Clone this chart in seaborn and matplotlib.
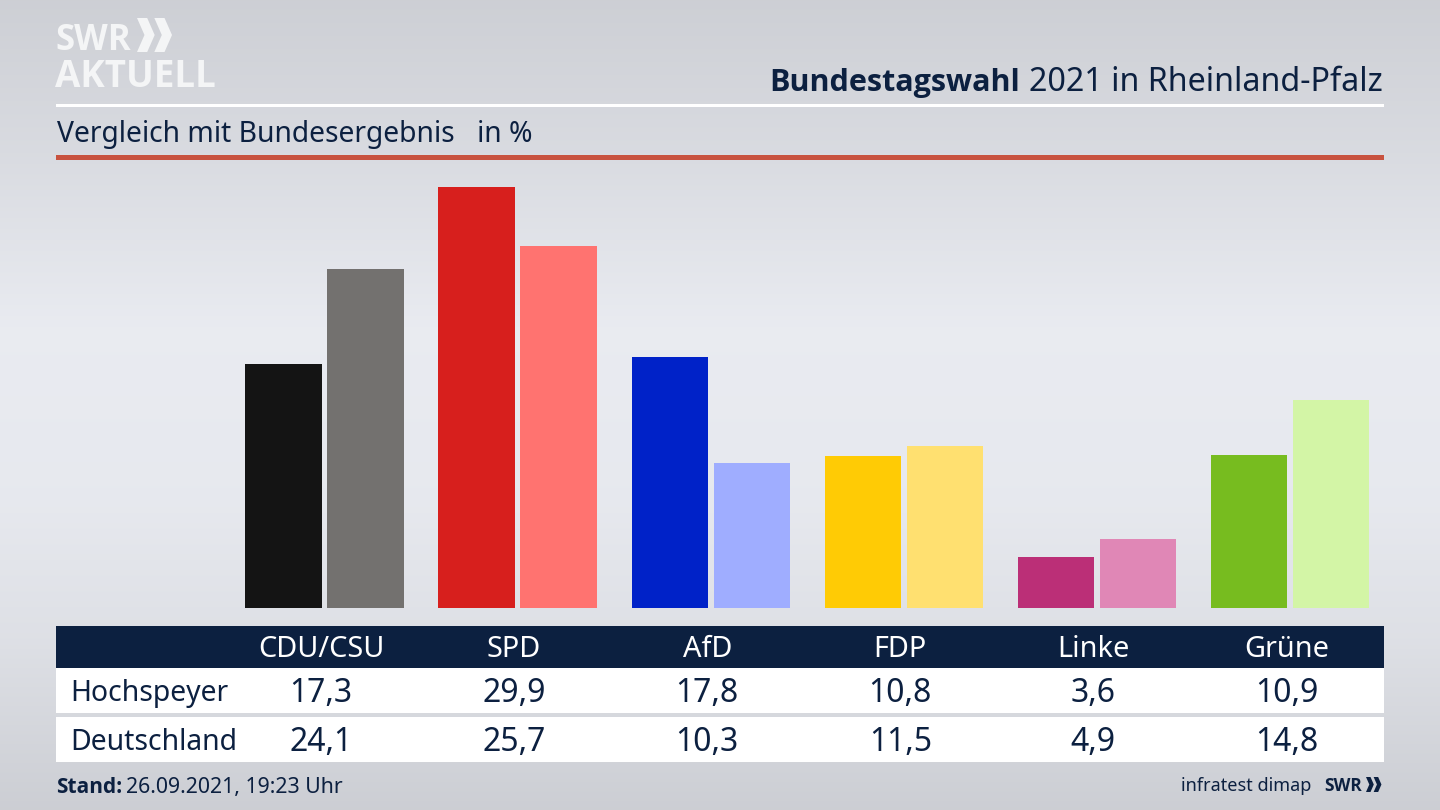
import matplotlib
matplotlib.use("Agg")
import matplotlib.pyplot as plt
import numpy as np
import pandas as pd
import seaborn as sns
from matplotlib.patches import Polygon, Rectangle

parties = ["CDU/CSU", "SPD", "AfD", "FDP", "Linke", "Grüne"]
hochspeyer = [17.3, 29.9, 17.8, 10.8, 3.6, 10.9]
deutschland = [24.1, 25.7, 10.3, 11.5, 4.9, 14.8]
colors_local = ["#141414", "#d71f1d", "#0022c8", "#ffcb05", "#bb2f77", "#77bc1f"]
colors_federal = ["#73716f", "#ff7370", "#9fadff", "#ffe070", "#e087b6", "#d3f5a6"]

NAVY = "#0c2040"
W, H = 1440, 810

sns.set_theme(style="white")
plt.rcParams["font.family"] = ["Noto Sans", "DejaVu Sans"]

fig = plt.figure(figsize=(14.4, 8.1), dpi=100)

# background gradient
bg = fig.add_axes([0, 0, 1, 1], zorder=0)
stops_y = [0, 150, 330, 500, 640, 810]
stops_v = [0.805, 0.85, 0.915, 0.905, 0.87, 0.80]
grad = np.interp(np.arange(H), stops_y, stops_v)[:, None]
rgb = np.dstack([grad, grad + 0.008, grad + 0.03]).clip(0, 1)
bg.imshow(rgb, extent=(0, W, H, 0), aspect="auto")
bg.axis("off")

# bars
top, base = 170, 608
px_per_unit = 421 / 29.9
ax = fig.add_axes([56 / W, 1 - base / H, (1384 - 56) / W, (base - top) / H], zorder=1)
df = pd.DataFrame({"partei": parties, "Hochspeyer": hochspeyer, "Deutschland": deutschland})
long = df.melt(id_vars="partei", var_name="gebiet", value_name="prozent")
sns.barplot(data=long, x="partei", y="prozent", hue="gebiet", ax=ax, width=0.85, gap=0.07,
            saturation=1, legend=False, errorbar=None)
for patch, col in zip(ax.patches, colors_local + colors_federal):
    patch.set_facecolor(col)
    patch.set_edgecolor("none")
step = 193.1
ax.set_xlim((56 - 324.5) / step, (1384 - 324.5) / step)
ax.set_ylim(0, (base - top) / px_per_unit)
ax.axis("off")

# overlay in pixel coordinates
ov = fig.add_axes([0, 0, 1, 1], zorder=2)
ov.set_xlim(0, W)
ov.set_ylim(H, 0)
ov.axis("off")
ov.patch.set_alpha(0)


def box(x0, y0, x1, y1, color):
    ov.add_patch(Rectangle((x0, y0), x1 - x0, y1 - y0, facecolor=color, edgecolor="none"))


def chevrons(x, y, h, color):
    # two arrow heads of the SWR logo
    w = h * 0.52
    t = h * 0.30
    for dx in (0, w * 0.98):
        pts = [(x + dx, y), (x + dx + t, y), (x + dx + w, y + h / 2),
               (x + dx + t, y + h), (x + dx, y + h), (x + dx + w - t, y + h / 2)]
        ov.add_patch(Polygon(pts, closed=True, facecolor=color, edgecolor="none"))


box(56, 104, 1384, 107, "white")
box(56, 155, 1384, 160, "#c8523f")
box(56, 626, 1384, 668, NAVY)
box(56, 668, 1384, 713, "white")
box(56, 717, 1384, 762, "white")

# logo
ov.text(55, 50, "SWR", color="#f4f5f6", fontsize=25, fontweight="bold", va="baseline", ha="left",
        family="Open Sans")
chevrons(137, 18, 34, "#f4f5f6")
ov.text(55, 87, "AKTUELL", color="#f4f5f6", fontsize=26.5, fontweight="bold", va="baseline", ha="left",
        family="Open Sans")

# headings
ov.text(1383, 91, "2021 in Rheinland-Pfalz", color=NAVY, fontsize=23.2, ha="right", va="baseline")
ov.text(1020, 91, "Bundestagswahl", color=NAVY, fontsize=22, fontweight="bold", ha="right", va="baseline",
        family="Open Sans")
ov.text(57, 142, "Vergleich mit Bundesergebnis", color=NAVY, fontsize=20.35, ha="left", va="baseline")
ov.text(477, 142, "in %", color=NAVY, fontsize=20.35, ha="left", va="baseline")

# table
for i, name in enumerate(parties):
    cx = 321 + i * step
    ov.text(cx, 657, name, color="white", fontsize=20.8, ha="center", va="baseline")
    ov.text(cx, 702, f"{hochspeyer[i]:.1f}".replace(".", ","), color=NAVY, fontsize=23, ha="center", va="baseline")
    ov.text(cx, 751, f"{deutschland[i]:.1f}".replace(".", ","), color=NAVY, fontsize=23, ha="center", va="baseline")
ov.text(70, 701, "Hochspeyer", color=NAVY, fontsize=20.4, ha="left", va="baseline")
ov.text(70, 750, "Deutschland", color=NAVY, fontsize=20.4, ha="left", va="baseline")

# footer
ov.text(56, 793, "Stand:", color=NAVY, fontsize=15, fontweight="bold", ha="left", va="baseline",
        family="Open Sans")
ov.text(126, 793, "26.09.2021, 19:23 Uhr", color=NAVY, fontsize=15.3, ha="left", va="baseline")
ov.text(1311, 791, "infratest dimap", color=NAVY, fontsize=13, ha="right", va="baseline")
ov.text(1324, 791, "SWR", color=NAVY, fontsize=12.5, fontweight="bold", ha="left", va="baseline", family="Open Sans")
chevrons(1366, 777, 15, NAVY)

fig.savefig("out.png", dpi=100)
